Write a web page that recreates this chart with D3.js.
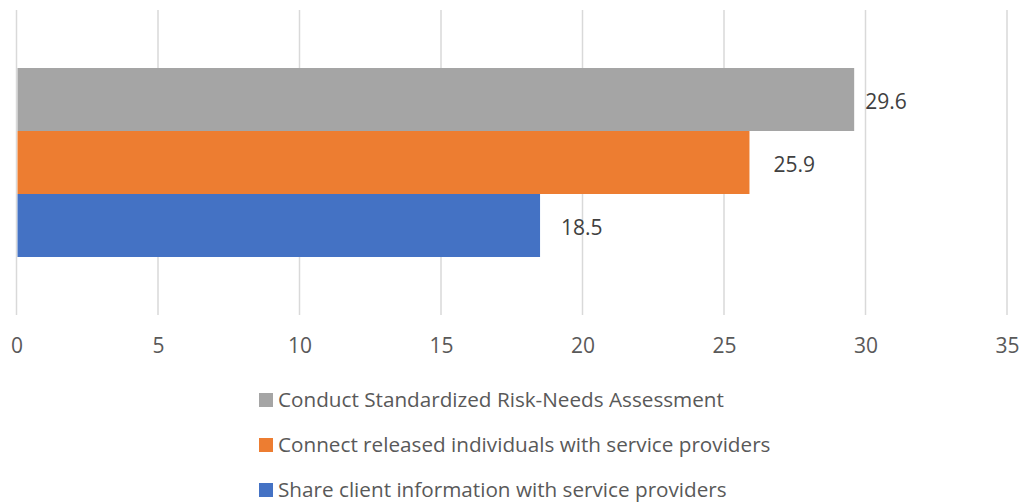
<!DOCTYPE html>
<html>
<head>
<meta charset="utf-8">
<script src="https://cdn.jsdelivr.net/npm/d3@7"></script>
<style>
  body { margin: 0; background: #fff; }
  svg { display: block; font-family: "Open Sans", sans-serif; }
</style>
</head>
<body>
<div id="chart"></div>
<script>
var svgWidth = 1025;
var svgHeight = 504;

// data, top bar first
var seriesNames = [
  "Conduct Standardized Risk-Needs Assessment",
  "Connect released individuals with service providers",
  "Share client information with service providers"
];
var seriesValues = [29.6, 25.9, 18.5];
var seriesColors = ["#A5A5A5", "#ED7D31", "#4472C4"];
var xTicks = [0, 5, 10, 15, 20, 25, 30, 35];

// labels in the original were nudged by hand
var labelNudge = [11, 24, 21];

var margin = { top: 10, right: 18, bottom: 189, left: 16.5 };
var width = svgWidth - margin.left - margin.right;
var height = svgHeight - margin.top - margin.bottom;

var svg = d3.select("#chart")
  .append("svg")
  .attr("width", svgWidth)
  .attr("height", svgHeight);

var chartGroup = svg.append("g")
  .attr("transform", `translate(${margin.left}, ${margin.top})`);

var xScale = d3.scaleLinear()
  .domain([0, 35])
  .range([0, width]);

// one category, three bars stacked inside it
var yScale = d3.scaleBand()
  .domain(seriesNames)
  .range([58, 247])
  .padding(0);

// gridlines
chartGroup.selectAll(".grid")
  .data(xTicks)
  .enter()
  .append("line")
  .attr("x1", d => xScale(d))
  .attr("x2", d => xScale(d))
  .attr("y1", 0)
  .attr("y2", height)
  .attr("stroke", "#d9d9d9")
  .attr("stroke-width", 1.5);

// bars
chartGroup.selectAll("rect.bar")
  .data(seriesNames)
  .enter()
  .append("rect")
  .attr("class", "bar")
  .attr("x", xScale(0) + 1)
  .attr("y", d => yScale(d))
  .attr("width", (d, i) => xScale(seriesValues[i]) - xScale(0) - 1)
  .attr("height", yScale.bandwidth())
  .attr("fill", (d, i) => seriesColors[i]);

// value labels
chartGroup.selectAll("text.val")
  .data(seriesNames)
  .enter()
  .append("text")
  .attr("class", "val")
  .attr("x", (d, i) => xScale(seriesValues[i]) + labelNudge[i])
  .attr("y", d => yScale(d) + yScale.bandwidth() / 2 + 2)
  .attr("dy", "0.35em")
  .attr("font-size", 21)
  .attr("fill", "#404040")
  .text((d, i) => seriesValues[i].toFixed(1));

// x axis tick labels
var bottomAxis = d3.axisBottom(xScale)
  .tickValues(xTicks)
  .tickSize(0)
  .tickPadding(0);

var xAxis = chartGroup.append("g")
  .attr("transform", `translate(0, ${height})`)
  .call(bottomAxis);

xAxis.select(".domain").remove();
xAxis.selectAll("text")
  .attr("y", 38)
  .attr("dy", 0)
  .attr("font-size", 21)
  .attr("font-family", "Open Sans, sans-serif")
  .attr("fill", "#595959");

// legend
var legend = svg.append("g")
  .attr("transform", "translate(259, 393)");

var legendItems = legend.selectAll("g")
  .data(seriesNames)
  .enter()
  .append("g")
  .attr("transform", (d, i) => `translate(0, ${i * 45})`);

legendItems.append("rect")
  .attr("width", 14)
  .attr("height", 14)
  .attr("fill", (d, i) => seriesColors[i]);

legendItems.append("text")
  .attr("x", 19)
  .attr("y", 7)
  .attr("dy", "0.36em")
  .attr("font-size", 20.7)
  .attr("fill", "#595959")
  .text(d => d);
</script>
</body>
</html>
